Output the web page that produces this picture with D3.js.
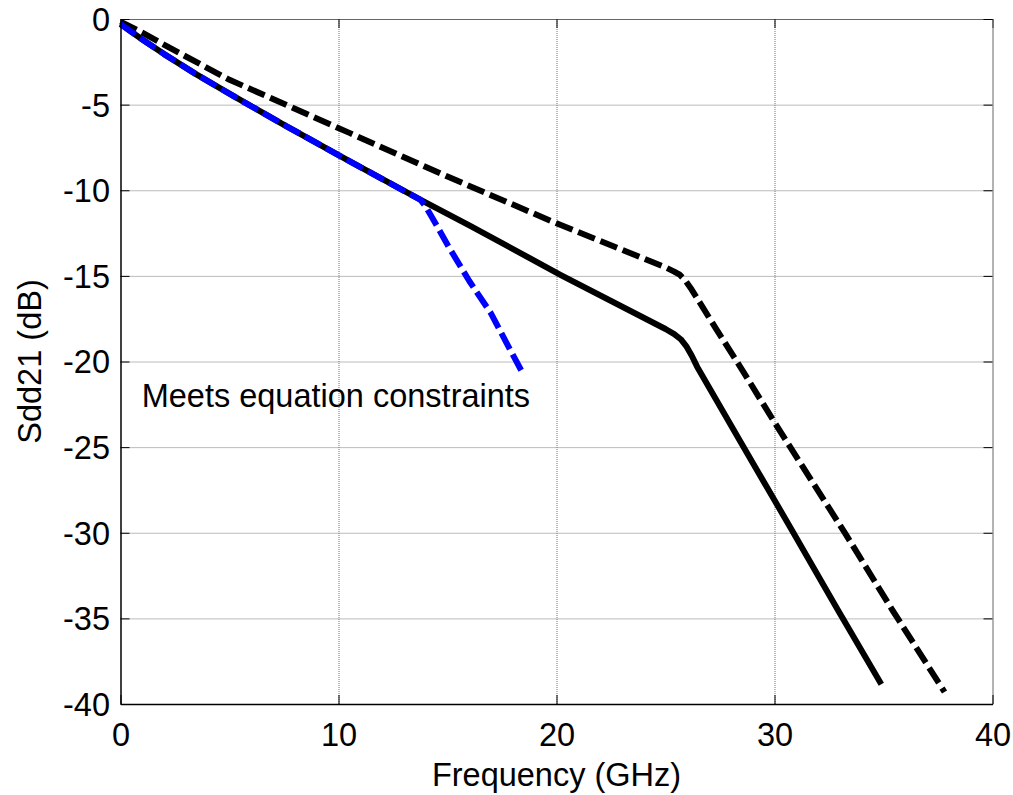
<!DOCTYPE html>
<html>
<head>
<meta charset="utf-8">
<script src="https://cdn.jsdelivr.net/npm/d3@7"></script>
<style>
  html, body { margin: 0; padding: 0; background: #fff; }
  svg { display: block; }
  text { font-family: "Liberation Sans", Arial, Helvetica, sans-serif; fill: #000; }
</style>
</head>
<body>
<svg id="chart" width="1013" height="795"></svg>
<script>
// ---- Data (frequency in GHz, Sdd21 in dB) ----
const solidFreq = [0, 1.0, 2.0, 3.5, 5.25, 7.6, 10.5, 13.75, 16.0, 20.2, 25.0, 25.4, 25.7, 25.95, 26.2, 26.45, 28.4, 30.8, 32.9, 34.9];
const solidDb   = [-0.3, -1.2, -2.05, -3.25, -4.55, -6.25, -8.3, -10.55, -12.05, -14.95, -18.1, -18.4, -18.7, -19.1, -19.65, -20.3, -24.6, -29.85, -34.5, -38.85];

const dashedFreq = [0, 1.0, 2.5, 5.0, 10.5, 15.0, 20.0, 25.0, 25.4, 25.65, 25.9, 26.2, 27.35, 28.4, 30.0, 33.25, 35.4, 37.8];
const dashedDb   = [-0.15, -0.8, -1.85, -3.55, -6.65, -9.2, -11.93, -14.5, -14.75, -14.93, -15.25, -15.8, -18.15, -20.25, -23.55, -30.05, -34.5, -39.3];

const blueFreq = [0, 1.0, 2.0, 3.5, 5.25, 7.6, 10.5, 13.75, 14.0, 14.3, 15.1, 16.0, 17.0, 17.7, 18.5];
const blueDb   = [-0.3, -1.2, -2.05, -3.25, -4.55, -6.25, -8.3, -10.55, -10.95, -11.6, -13.4, -15.3, -17.2, -18.9, -20.8];

const xTicks = [0, 10, 20, 30, 40];
const yTicks = [-40, -35, -30, -25, -20, -15, -10, -5, 0];
const xTitle = "Frequency (GHz)";
const yTitle = "Sdd21 (dB)";
const noteText = "Meets equation constraints";

(function () {
  const svg = d3.select("#chart");
  const pLeft = 120.5, pRight = 992.5, pTop = 19, pBottom = 704;
  const x = d3.scaleLinear().domain([0, 40]).range([pLeft, pRight]);
  const y = d3.scaleLinear().domain([-40, 0]).range([pBottom, pTop]);
  const fontSize = 32.5;
  const lw = 6;

  // grid
  const gridX = d3.axisBottom(x).tickValues(xTicks.slice(1, -1)).tickSize(-(pBottom - pTop)).tickFormat("").tickSizeOuter(0);
  const gridY = d3.axisLeft(y).tickValues(yTicks.slice(1, -1)).tickSize(-(pRight - pLeft)).tickFormat("").tickSizeOuter(0);
  svg.append("g").attr("transform", `translate(0,${pBottom})`).call(gridX)
    .call(g => g.select(".domain").remove())
    .selectAll("line").attr("stroke", "#777").attr("stroke-width", 1).attr("stroke-dasharray", "1,1");
  svg.append("g").attr("transform", `translate(${pLeft},0)`).call(gridY)
    .call(g => g.select(".domain").remove())
    .selectAll("line").attr("stroke", "#777").attr("stroke-width", 1).attr("stroke-dasharray", "1,1");

  // lines
  const line = d3.line().x(d => x(d[0])).y(d => y(d[1]));
  const solid = solidFreq.map((f, i) => [f, solidDb[i]]);
  const dashed = dashedFreq.map((f, i) => [f, dashedDb[i]]);
  const blue = blueFreq.map((f, i) => [f, blueDb[i]]);

  svg.append("path").datum(solid).attr("d", line)
    .attr("fill", "none").attr("stroke", "#000").attr("stroke-width", lw).attr("stroke-linejoin", "round");
  svg.append("path").datum(dashed).attr("d", line)
    .attr("fill", "none").attr("stroke", "#000").attr("stroke-width", lw)
    .attr("stroke-dasharray", "18,6").attr("stroke-linejoin", "round");
  svg.append("path").datum(blue).attr("d", line)
    .attr("fill", "none").attr("stroke", "#0000ff").attr("stroke-width", lw)
    .attr("stroke-dasharray", "18,6").attr("stroke-linejoin", "round");

  // axes
  function styleAxis(g, color, width) {
    g.select(".domain").attr("stroke", color).attr("stroke-width", width);
    g.selectAll(".tick line").attr("stroke", "#000").attr("stroke-width", 1);
    g.selectAll("text").attr("font-size", fontSize).attr("font-family", '"Liberation Sans", Arial, sans-serif').attr("fill", "#000");
  }
  svg.append("g").attr("transform", `translate(0,${pTop})`)
    .call(d3.axisTop(x).tickValues(xTicks).tickSize(-9).tickSizeOuter(0).tickFormat(""))
    .call(g => styleAxis(g, "#666", 1));
  svg.append("g").attr("transform", `translate(${pRight},0)`)
    .call(d3.axisRight(y).tickValues(yTicks).tickSize(-9).tickSizeOuter(0).tickFormat(""))
    .call(g => styleAxis(g, "#666", 1));
  svg.append("g").attr("transform", `translate(0,${pBottom})`)
    .call(d3.axisBottom(x).tickValues(xTicks).tickSize(-9).tickSizeOuter(0).tickPadding(19).tickFormat(d3.format("d")))
    .call(g => styleAxis(g, "#000", 1.5));
  svg.append("g").attr("transform", `translate(${pLeft},0)`)
    .call(d3.axisLeft(y).tickValues(yTicks).tickSize(-9).tickSizeOuter(0).tickPadding(10.5).tickFormat(d => d === 0 ? "0" : "-" + Math.abs(d)))
    .call(g => styleAxis(g, "#000", 1.5))
    .selectAll("text").attr("dy", "0.35em");

  // titles
  svg.append("text").attr("x", (pLeft + pRight) / 2).attr("y", 786)
    .attr("text-anchor", "middle").attr("font-size", fontSize).text(xTitle);
  svg.append("text").attr("transform", `translate(41,${(pTop + pBottom) / 2}) rotate(-90)`)
    .attr("text-anchor", "middle").attr("font-size", fontSize).text(yTitle);

  // annotation
  svg.append("text").attr("x", 141.7).attr("y", 407.3)
    .attr("font-size", fontSize).text(noteText);
})();
</script>
</body>
</html>
